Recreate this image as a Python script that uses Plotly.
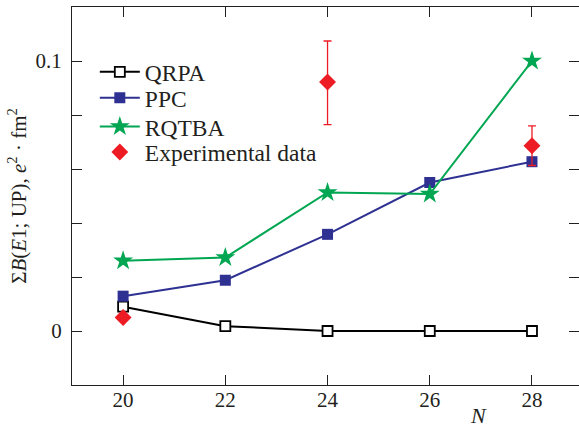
import plotly.graph_objects as go

N = [20, 22, 24, 26, 28]
qrpa = [0.009, 0.0018, 0.0, 0.0, 0.0]
ppc = [0.0129, 0.0188, 0.0358, 0.0550, 0.0627]
rqtba = [0.0260, 0.0272, 0.0513, 0.0507, 0.1000]
exp_N = [20, 24, 28]
exp_val = [0.0050, 0.0922, 0.0686]
exp_err_plus = [0.0, 0.0152, 0.0074]
exp_err_minus = [0.0, 0.0158, 0.0073]

ytickvals = [-0.02, 0.0, 0.02, 0.04, 0.06, 0.08, 0.1, 0.12]
yticktext = ["", "0", "", "", "", "", "0.1", ""]
xtickvals = [20, 22, 24, 26, 28]

font_family = "Liberation Serif"

fig = go.Figure()
fig.add_trace(go.Scatter(x=N, y=qrpa, mode="lines+markers", name="QRPA", legend="legend",
                         line=dict(color="black", width=2),
                         marker=dict(symbol="square", size=10, color="white",
                                     line=dict(color="black", width=1.8))))
fig.add_trace(go.Scatter(x=N, y=ppc, mode="lines+markers", name="PPC", legend="legend2",
                         line=dict(color="#2e3192", width=2),
                         marker=dict(symbol="square", size=11, color="#2e3192")))
fig.add_trace(go.Scatter(x=N, y=rqtba, mode="lines+markers", name="RQTBA", legend="legend3",
                         line=dict(color="#00a651", width=2),
                         marker=dict(symbol="star", size=15, color="#00a651")))
fig.add_trace(go.Scatter(x=exp_N, y=exp_val, mode="markers", name="Experimental data",
                         legend="legend4",
                         marker=dict(symbol="diamond", size=13, color="#ed1c24"),
                         error_y=dict(type="data", symmetric=False, array=exp_err_plus,
                                      arrayminus=exp_err_minus, color="#ed1c24",
                                      thickness=1.3, width=4)))

def leg(ypos):
    return dict(x=0.045, y=ypos, xanchor="left", yanchor="middle",
                bgcolor="rgba(0,0,0,0)", font=dict(size=23.5), itemwidth=40)

fig.update_layout(
    width=579, height=430,
    margin=dict(l=72, r=0, t=7, b=45),
    plot_bgcolor="white", paper_bgcolor="white",
    font=dict(family=font_family, size=21, color="#231f20"),
    showlegend=True,
    legend=leg(0.828), legend2=leg(0.759), legend3=leg(0.683), legend4=leg(0.616),
    xaxis=dict(range=[19, 28.92], tickvals=xtickvals, ticks="inside", ticklen=10,
               tickwidth=1.3, tickcolor="#231f20", showline=True, linecolor="#231f20",
               linewidth=1.3, mirror="ticks", showgrid=False, zeroline=False,
               tickfont=dict(size=21), ticklabelstandoff=-4),
    yaxis=dict(range=[-0.02, 0.12], tickvals=ytickvals, ticktext=yticktext,
               ticks="inside", ticklen=10, tickwidth=1.3, tickcolor="#231f20",
               showline=True, linecolor="#231f20", linewidth=1.3, mirror="ticks",
               showgrid=False, zeroline=False, tickfont=dict(size=21),
               ticklabelstandoff=5,
               title=dict(text="Σ<i>B</i>(<i>E</i>1; UP), <i>e</i><sup>2</sup> · fm<sup>2</sup>",
                          font=dict(size=21), standoff=3)),
)
fig.add_annotation(text="<i>N</i>", x=26.95, y=0, xref="x", yref="paper",
                   showarrow=False, font=dict(size=22), xanchor="center", yanchor="top",
                   yshift=-16)

fig.write_html("out.html", config={"displayModeBar": False},
               post_script="document.body.style.margin='0';")
